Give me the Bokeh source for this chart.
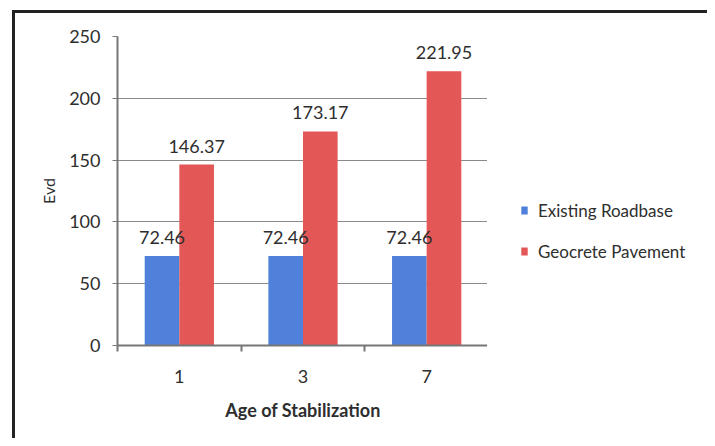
from bokeh.plotting import figure
from bokeh.layouts import row
from bokeh.models import ColumnDataSource, Range1d, FixedTicker, Legend, LegendItem, LabelSet
from bokeh.transform import dodge
from bokeh.core.properties import value
from bokeh.embed import file_html
from bokeh.resources import INLINE

ages = ["1", "3", "7"]
existing = [72.46, 72.46, 72.46]
geocrete = [146.37, 173.17, 221.95]
series_names = ["Existing Roadbase", "Geocrete Pavement"]
y_ticks = [0, 50, 100, 150, 200, 250]

FONT = "Lato"
BLUE = "#4f80da"
RED = "#e35757"
TXT = "#2e2e2e"
colors = [BLUE, RED]

xs = [i + 0.5 for i in range(len(ages))]
src = ColumnDataSource(dict(
    x=xs,
    existing=existing,
    geocrete=geocrete,
    existing_lbl=["{:.2f}".format(v) for v in existing],
    geocrete_lbl=["{:.2f}".format(v) for v in geocrete],
))

p = figure(width=475, height=428, output_backend="svg", toolbar_location=None,
           x_range=Range1d(0, len(ages)), y_range=Range1d(0, 250),
           min_border_left=102, min_border_right=2, min_border_top=23, min_border_bottom=96)
p.styles = {"margin-left": "12px", "margin-top": "10px",
            "border-left": "3px solid #222", "border-top": "3px solid #222"}
p.outline_line_color = None
p.background_fill_color = "white"
p.border_fill_alpha = 0

p.vbar(x=dodge("x", -0.14), top="existing", width=0.28, source=src,
       fill_color=BLUE, line_color=None)
p.vbar(x=dodge("x", 0.14), top="geocrete", width=0.28, source=src,
       fill_color=RED, line_color=None)

for col, off in (("existing", -0.14), ("geocrete", 0.14)):
    lbl = LabelSet(x=dodge("x", off), y=col, text=col + "_lbl", source=src,
                   text_align="center", text_baseline="alphabetic", y_offset=12,
                   text_font=value(FONT), text_font_size="18px", text_color=TXT)
    p.add_layout(lbl)

# axes
p.xaxis.ticker = FixedTicker(ticks=xs, minor_ticks=list(range(len(ages) + 1)))
p.xaxis.major_label_overrides = {x: a for x, a in zip(xs, ages)}
p.xaxis.major_tick_out = 0
p.xaxis.major_tick_in = 0
p.xaxis.minor_tick_out = 6
p.xaxis.minor_tick_in = 0
p.xaxis.minor_tick_line_color = "#777777"
p.xaxis.minor_tick_line_width = 2
p.xaxis.axis_line_color = "#777777"
p.xaxis.axis_line_width = 2
p.xaxis.major_label_standoff = 18
p.xaxis.axis_label = "Age of Stabilization"
p.xaxis.axis_label_standoff = 13
p.xaxis.axis_label_text_font_style = "bold"
p.xaxis.axis_label_text_font_size = "18px"

p.yaxis.ticker = FixedTicker(ticks=y_ticks)
p.yaxis.major_tick_out = 5
p.yaxis.major_tick_in = 0
p.yaxis.minor_tick_line_color = None
p.yaxis.major_tick_line_color = "#777777"
p.yaxis.axis_line_color = "#777777"
p.yaxis.axis_line_width = 2
p.yaxis.major_label_standoff = 12
p.yaxis.axis_label = "Evd"
p.yaxis.axis_label_standoff = 8
p.yaxis.axis_label_text_font_style = "normal"
p.yaxis.axis_label_text_font_size = "16px"

for ax in (p.xaxis, p.yaxis):
    ax.major_label_text_font = FONT
    ax.major_label_text_font_size = "18px"
    ax.major_label_text_color = TXT
    ax.axis_label_text_font = FONT
    ax.axis_label_text_color = TXT

p.xgrid.grid_line_color = None
p.ygrid.grid_line_color = "#8a8a8a"
p.ygrid.grid_line_width = 1

# legend panel (separate figure, same colours as the series)
lg = figure(width=220, height=428, output_backend="svg", toolbar_location=None,
            x_axis_type=None, y_axis_type=None,
            x_range=Range1d(0, 1), y_range=Range1d(0, 1),
            min_border_left=0, min_border_right=0, min_border_top=23, min_border_bottom=96)
lg.styles = {"margin-top": "10px", "border-top": "3px solid #222"}
lg.outline_line_color = None
lg.grid.visible = False
lg.border_fill_alpha = 0
items = []
for name, c in zip(series_names, colors):
    rr = lg.vbar(x=[-10], top=[-10], bottom=[-10], width=0.1, fill_color=c, line_color=None)
    items.append(LegendItem(label=name, renderers=[rr]))

legend = Legend(items=items, location="center_left", orientation="vertical")
legend.title = " "
legend.title_text_font_size = "16px"
legend.title_standoff = 62
legend.border_line_color = None
legend.background_fill_alpha = 0
legend.padding = 0
legend.margin = 33
legend.spacing = 20
legend.glyph_width = 8
legend.glyph_height = 10
legend.label_standoff = 10
legend.label_text_font = FONT
legend.label_text_font_size = "17px"
legend.label_text_color = TXT
lg.add_layout(legend, "center")

layout = row(p, lg)
open("out.html", "w").write(file_html(layout, INLINE))
